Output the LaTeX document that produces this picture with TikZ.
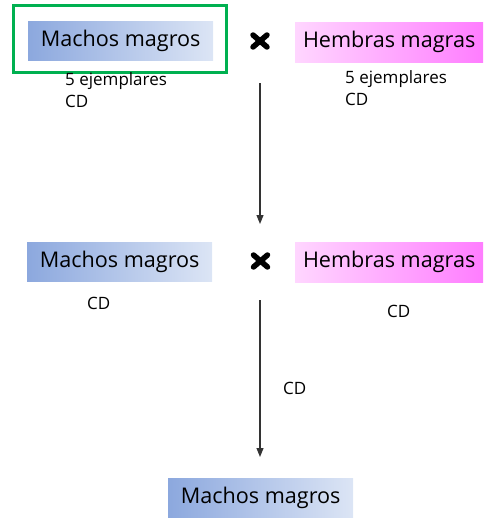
\documentclass[tikz,border=0pt]{standalone}
\usepackage{fontspec}
\setmainfont{Open Sans}
\usetikzlibrary{arrows.meta,calc}
\definecolor{mblueL}{RGB}{140,168,222}
\definecolor{mblueR}{RGB}{220,229,245}
\definecolor{hpinkL}{RGB}{255,214,255}
\definecolor{hpinkR}{RGB}{255,125,255}
\definecolor{framegreen}{RGB}{0,176,80}
\tikzset{
  macho/.style={minimum width=185pt, minimum height=39pt, inner sep=0pt, left color=mblueL, right color=mblueR, font=\fontsize{21.6}{24}\selectfont, anchor=north west},
  hembra/.style={minimum width=188pt, minimum height=40pt, inner sep=0pt, left color=hpinkL, right color=hpinkR, font=\fontsize{21.6}{24}\selectfont, anchor=north west},
  small/.style={font=\fontsize{17}{22}\selectfont, align=left, inner sep=0pt, anchor=north west},
  crossmark/.style={line width=5.5pt, line cap=round},
  flow/.style={draw=black!80, line width=1.1pt, -{Triangle[length=9pt,width=7pt]}}
}
\begin{document}
\begin{tikzpicture}[x=1pt,y=-1pt]
\useasboundingbox (0,0) rectangle (483,520);
% row 1
\node[macho] (m1) at (28,21) {Machos magros};
\draw[framegreen, line width=3pt] (13,5) rectangle (226,72);
\node[hembra] (h1) at (295,22) {Hembras magras};
\node[small] (t1) at (65,72) {5 ejemplares\\CD};
\node[small] (t2) at (345,70) {5 ejemplares\\CD};
\coordinate (x1) at (260,41);
\draw[crossmark] ($(x1)+(-7,-6)$) -- ($(x1)+(7,6)$);
\draw[crossmark] ($(x1)+(-7,6)$) -- ($(x1)+(7,-6)$);
\coordinate (a1s) at (260,83);
\coordinate (a1e) at (260,224);
\draw[flow] (a1s) -- (a1e);
% row 2
\node[macho] (m2) at (27,242) {Machos magros};
\node[hembra] (h2) at (295,242) {Hembras magras};
\node[small] (t3) at (87,297) {CD};
\node[small] (t4) at (387,305) {CD};
\coordinate (x2) at (260.5,261);
\draw[crossmark] ($(x2)+(-7,-6)$) -- ($(x2)+(7,6)$);
\draw[crossmark] ($(x2)+(-7,6)$) -- ($(x2)+(7,-6)$);
\coordinate (a2s) at (260,300);
\coordinate (a2e) at (260,457);
\draw[flow] (a2s) -- (a2e);
\node[small] (t5) at (283,382) {CD};
% row 3
\node[macho] (m3) at (168,478) {Machos magros};
\end{tikzpicture}
\end{document}
